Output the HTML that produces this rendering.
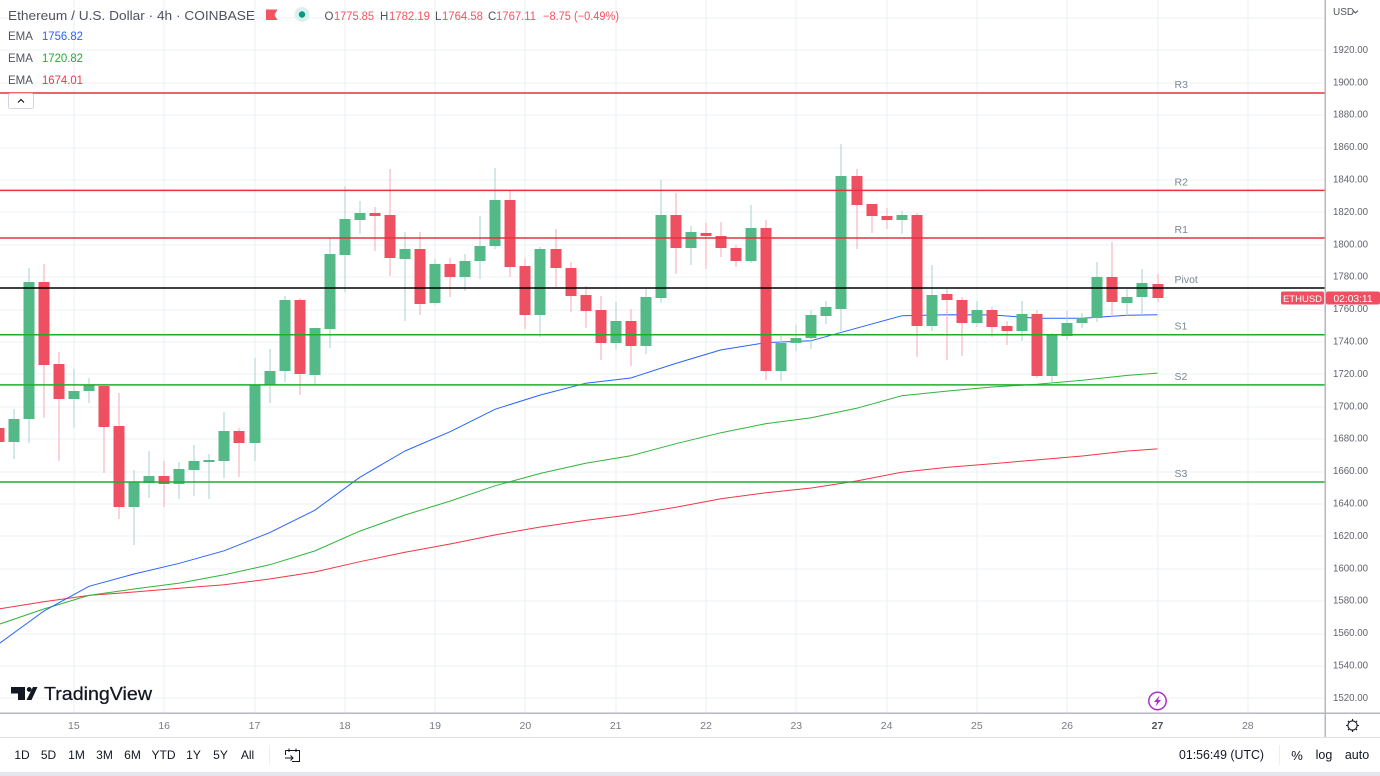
<!DOCTYPE html>
<html lang="en">
<head>
<meta charset="utf-8">
<title>Ethereum / U.S. Dollar 4h chart</title>
<style>
html,body{margin:0;padding:0;background:#fff;}
#stage{position:relative;width:1380px;height:776px;overflow:hidden;background:#fff;}
svg{position:absolute;left:0;top:0;display:block;font-family:"Liberation Sans",sans-serif;}
</style>
</head>
<body>
<div id="stage">
<svg id="chart" width="1380" height="776" viewBox="0 0 1380 776">
  <defs><clipPath id="pane"><rect x="0" y="0" width="1325" height="713"/></clipPath></defs>
  <g id="grid"></g>
  <g id="emas" clip-path="url(#pane)"></g>
  <g id="candles" clip-path="url(#pane)"></g>
  <g id="pivots"></g>
  <g id="yaxis"></g>
  <g id="xaxis"></g>

  <rect x="1324.5" y="0" width="1.5" height="737" fill="#b4b7bf"/>
  <rect x="0" y="712.5" width="1380" height="1.5" fill="#b4b7bf"/>
  <rect x="0" y="737" width="1380" height="1" fill="#e0e3eb"/>
  <rect x="0" y="772" width="1380" height="4" fill="#e3e6ee"/>

  <!-- header legend -->
  <g>
    <text x="8" y="20" font-size="13" fill="#50535e" textLength="247" lengthAdjust="spacingAndGlyphs">Ethereum / U.S. Dollar · 4h · COINBASE</text>
    <path d="M266 9.5H277.5L274.5 15L277.5 20H266Z" fill="#f7525f"/>
    <circle cx="302" cy="14.5" r="7.5" fill="#dcf1ed"/>
    <circle cx="302" cy="14.5" r="3.2" fill="#089981"/>
    <g font-size="11.5">
      <text x="324.5" y="20" fill="#50535e">O</text>
      <text x="334" y="20" fill="#f7525f" textLength="40" lengthAdjust="spacingAndGlyphs">1775.85</text>
      <text x="380" y="20" fill="#50535e">H</text>
      <text x="389" y="20" fill="#f7525f" textLength="41" lengthAdjust="spacingAndGlyphs">1782.19</text>
      <text x="435" y="20" fill="#50535e">L</text>
      <text x="442" y="20" fill="#f7525f" textLength="41" lengthAdjust="spacingAndGlyphs">1764.58</text>
      <text x="488" y="20" fill="#50535e">C</text>
      <text x="496" y="20" fill="#f7525f" textLength="40" lengthAdjust="spacingAndGlyphs">1767.11</text>
      <text x="543" y="20" fill="#f7525f" textLength="76" lengthAdjust="spacingAndGlyphs">−8.75 (−0.49%)</text>
    </g>
    <g font-size="11.5">
      <text x="8" y="40" fill="#50535e">EMA</text>
      <text x="42" y="40" fill="#2962ff" textLength="41" lengthAdjust="spacingAndGlyphs">1756.82</text>
      <text x="8" y="62" fill="#50535e">EMA</text>
      <text x="42" y="62" fill="#1fae2c" textLength="41" lengthAdjust="spacingAndGlyphs">1720.82</text>
      <text x="8" y="84" fill="#50535e">EMA</text>
      <text x="42" y="84" fill="#f23645" textLength="41" lengthAdjust="spacingAndGlyphs">1674.01</text>
    </g>
    <g>
      <rect x="8.5" y="93.5" width="25" height="15" rx="2" fill="#fff" stroke="#d1d4dc"/>
      <path d="M18 102.5L21 99.5L24 102.5" fill="none" stroke="#131722" stroke-width="1.2"/>
    </g>
  </g>

  <!-- last price tags -->
  <g>
    <rect x="1281" y="291.5" width="43" height="13" rx="2" fill="#ee4f61"/>
    <text x="1302.5" y="302" font-size="9.5" fill="#fff" text-anchor="middle">ETHUSD</text>
    <rect x="1326" y="291.5" width="54" height="13" rx="2" fill="#ee4f61"/>
    <text x="1353" y="302" font-size="10" fill="#fff" text-anchor="middle" textLength="39" lengthAdjust="spacingAndGlyphs">02:03:11</text>
  </g>

  <!-- USD selector -->
  <g>
    <rect x="1327" y="0" width="53" height="22" fill="#fff"/>
    <text x="1333" y="15" font-size="10" fill="#50535e">USD</text>
    <path d="M1353 10.5L1355.5 13L1358 10.5" fill="none" stroke="#50535e" stroke-width="1"/>
  </g>

  <!-- watermark -->
  <g>
    <path d="M11 687H25V700H18V693.5H11ZM33 687H37.5L31.5 700H26.5ZM26.8 689.5A2.4 2.4 0 1 0 26.8 689.4Z" fill="#131722"/>
    <text x="44" y="700" font-size="18.5" font-weight="400" fill="#131722" stroke="#131722" stroke-width="0.25" textLength="108" lengthAdjust="spacingAndGlyphs">TradingView</text>
  </g>

  <!-- event icon -->
  <g>
    <circle cx="1157.5" cy="701" r="8.7" fill="#fff" stroke="#ab2fc6" stroke-width="1.5"/>
    <path d="M1159.5 695.5L1154 702H1157L1155.5 706.5L1161 700H1158Z" fill="#ab2fc6"/>
  </g>

  <!-- settings -->
  <g fill="none" stroke="#131722" stroke-width="1.1">
    <circle cx="1352.5" cy="725.5" r="4.6"/>
    <path d="M1352.5 719V720.8M1352.5 730.2V732M1346 725.5H1347.8M1357.2 725.5H1359M1347.9 720.9L1349.2 722.2M1355.8 728.8L1357.1 730.1M1347.9 730.1L1349.2 728.8M1355.8 722.2L1357.1 720.9"/>
  </g>

  <!-- bottom toolbar -->
  <g font-size="12" fill="#131722" text-anchor="middle">
    <text x="22" y="759">1D</text>
    <text x="48.5" y="759">5D</text>
    <text x="76.5" y="759">1M</text>
    <text x="104.5" y="759">3M</text>
    <text x="132.5" y="759">6M</text>
    <text x="163.5" y="759">YTD</text>
    <text x="193.5" y="759">1Y</text>
    <text x="220.5" y="759">5Y</text>
    <text x="247.5" y="759">All</text>
  </g>
  <rect x="269" y="745" width="1" height="20" fill="#eceef2"/>
  <g fill="none" stroke="#131722" stroke-width="1">
    <path d="M288 750.5H299.5V761.5H292M285.5 750.5H288M285.5 750.5V755M289 748.5V752M296 748.5V752M285 758H293M290.5 755.5L293 758L290.5 760.5"/>
  </g>
  <text x="1179" y="759" font-size="12.5" fill="#131722" textLength="85" lengthAdjust="spacingAndGlyphs">01:56:49 (UTC)</text>
  <rect x="1279" y="745" width="1" height="20" fill="#eceef2"/>
  <text x="1297" y="760" font-size="13" fill="#131722" text-anchor="middle">%</text>
  <text x="1324" y="759" font-size="12.5" fill="#131722" text-anchor="middle">log</text>
  <text x="1357" y="759" font-size="12.5" fill="#131722" text-anchor="middle">auto</text>
</svg>
</div>
<script>
// candle values (USD), one entry per 4h bar
const opens = [1686.7,1678.5,1692.3,1777.2,1726.6,1705.0,1709.6,1713.1,1688.1,1638.2,1652.8,1657.5,1652.4,1661.0,1666.1,1666.5,1685.1,1677.6,1713.5,1721.9,1766.1,1719.6,1748.2,1793.9,1815.3,1819.4,1818.2,1791.4,1797.2,1764.1,1788.0,1780.1,1789.8,1799.1,1827.4,1786.9,1756.9,1797.2,1785.7,1768.8,1759.6,1739.6,1753.0,1737.5,1767.4,1818.4,1797.8,1807.3,1805.6,1798.0,1790.0,1810.2,1721.9,1739.4,1742.3,1756.3,1760.4,1842.5,1825.2,1817.8,1815.3,1818.4,1749.9,1769.4,1766.1,1751.9,1759.5,1750.1,1746.8,1757.3,1719.0,1743.7,1751.5,1754.8,1780.1,1764.3,1767.6,1775.85];
const highs = [1687.7,1698.4,1785.5,1788.2,1733.6,1723.1,1717.6,1714.1,1708.3,1661.0,1672.7,1666.5,1665.9,1676.2,1670.9,1696.6,1686.7,1729.9,1735.7,1768.4,1767.2,1748.4,1804.0,1836.3,1827.0,1823.4,1846.6,1807.9,1807.9,1791.4,1791.9,1794.1,1818.0,1847.2,1833.4,1791.6,1798.9,1809.8,1789.4,1774.6,1768.4,1764.7,1760.4,1773.1,1840.0,1832.2,1811.8,1813.5,1814.1,1799.9,1824.4,1815.3,1743.7,1750.5,1759.8,1765.3,1862.2,1846.6,1825.2,1822.7,1820.9,1819.6,1787.5,1772.5,1767.6,1765.3,1761.4,1752.9,1765.3,1759.8,1745.3,1759.3,1758.1,1789.6,1801.7,1772.5,1785.1,1782.19];
const lows = [1677.5,1667.6,1677.9,1693.3,1666.8,1687.1,1702.1,1658.9,1630.5,1614.7,1643.5,1638.4,1642.9,1645.2,1642.9,1656.3,1656.9,1666.8,1702.1,1715.5,1707.3,1713.5,1736.1,1771.1,1806.7,1796.4,1780.7,1753.2,1756.5,1762.8,1767.6,1771.7,1779.1,1797.6,1780.1,1748.2,1743.3,1773.7,1758.5,1748.4,1728.9,1735.7,1725.2,1732.6,1764.3,1781.8,1787.5,1784.9,1792.7,1786.5,1788.9,1716.5,1715.7,1734.2,1735.7,1750.9,1747.0,1797.4,1807.5,1809.8,1806.7,1730.7,1746.8,1728.9,1731.4,1749.5,1743.3,1738.4,1740.6,1717.6,1715.5,1741.2,1748.4,1752.4,1755.6,1756.3,1756.7,1764.58];
const closes = [1678.5,1692.3,1777.2,1726.0,1705.0,1709.8,1713.5,1687.7,1638.2,1653.6,1657.5,1652.4,1661.6,1666.3,1667.2,1685.1,1677.4,1713.3,1722.1,1766.1,1720.5,1748.4,1794.1,1815.9,1819.4,1817.8,1792.1,1797.2,1763.7,1788.0,1780.1,1789.8,1799.3,1827.4,1786.5,1756.9,1797.2,1785.9,1768.6,1759.3,1739.6,1753.0,1737.5,1767.6,1818.4,1797.8,1807.9,1805.4,1797.8,1790.0,1810.2,1721.9,1739.6,1742.5,1756.5,1761.4,1842.5,1824.8,1817.8,1815.3,1818.4,1749.9,1769.2,1766.1,1751.9,1759.5,1749.5,1746.8,1757.3,1719.0,1744.7,1751.9,1754.8,1780.1,1764.5,1767.8,1776.4,1767.11];

// EMA readings, taken at these bar numbers
const emaBars = [0,3,6,9,12,15,18,21,24,27,30,33,36,39,42,45,48,51,54,57,60,63,66,69,72,75,77];
const emaBlue = [1553.6,1573.9,1589.2,1596.8,1603.4,1611.2,1622.3,1636.1,1656.5,1672.7,1684.6,1698.5,1707.3,1714.5,1717.8,1726.8,1735.1,1739.6,1740.8,1748.5,1756.2,1756.8,1756.7,1754.6,1754.6,1756.5,1756.82];
const emaGreen = [1565.7,1575.2,1583.6,1587.5,1591.2,1596.3,1602.5,1611.0,1623.3,1633.2,1641.8,1651.3,1658.9,1665.1,1669.8,1677.2,1684.0,1689.6,1693.3,1699.1,1706.8,1709.7,1712.2,1713.9,1716.4,1719.4,1720.82];
const emaRed = [1575.2,1579.7,1583.6,1585.7,1588.0,1590.2,1593.7,1598.0,1604.4,1610.2,1615.3,1620.9,1625.8,1629.9,1633.4,1638.0,1643.3,1647.0,1649.9,1654.2,1659.6,1662.6,1664.9,1667.2,1669.6,1672.7,1674.01];

// pivot levels
const pivotNames = ['R3','R2','R1','Pivot','S1','S2','S3'];
const pivotValues = [1893.7,1833.6,1804.2,1773.3,1744.5,1713.5,1653.6];

// axis ticks
const priceTicks = [1920,1900,1880,1860,1840,1820,1800,1780,1760,1740,1720,1700,1680,1660,1640,1620,1600,1580,1560,1540,1520];
const gridOnlyPrices = [1940];
const dayLabels = ['15','16','17','18','19','20','21','22','23','24','25','26','27','28'];
const dayBars = [5,11,17,23,29,35,41,47,53,59,65,71,77,83];

const NS = 'http://www.w3.org/2000/svg';
function yOf(p){ return 180 + (1840 - p) * 1.62; }
function xOf(i){ return 1157.5 - (77 - i) * 15.05; }
function mk(tag, parent, attrs){
  const el = document.createElementNS(NS, tag);
  for (const k in attrs) el.setAttribute(k, attrs[k]);
  parent.appendChild(el);
  return el;
}

const gGrid = document.getElementById('grid');
const gEma = document.getElementById('emas');
const gCandles = document.getElementById('candles');
const gPivots = document.getElementById('pivots');
const gY = document.getElementById('yaxis');
const gX = document.getElementById('xaxis');

// horizontal grid + price labels
priceTicks.concat(gridOnlyPrices).forEach(function(p){
  const line = mk('rect', gGrid, {x:0, y:Math.round(yOf(p)) - 0.5, width:1325, height:1, fill:'#eef1f5'});
  
  
});
priceTicks.forEach(function(p){
  const t = mk('text', gY, {x:1333, y:yOf(p) + 2.5, 'font-size':10.5, fill:'#5f626d', textLength:35, lengthAdjust:'spacingAndGlyphs'});
  t.textContent = p.toFixed(2);
  
  
});

// vertical grid + date labels
dayLabels.forEach(function(d, k){
  const x = xOf(dayBars[k]);
  const line = mk('rect', gGrid, {x:Math.round(x) - 0.5, y:0, width:1, height:713, fill:'#e9f0f4'});
  
  
  const bold = d === '27';
  const t = mk('text', gX, {x:x, y:729, 'font-size':10.5, 'text-anchor':'middle', fill: bold ? '#50535e' : '#787b86', 'font-weight': bold ? '700' : '400'});
  t.textContent = d;
  
  
});

// EMA lines
function drawEma(values, color, name){
  let pts = '';
  values.forEach(function(v, k){ pts += xOf(emaBars[k]).toFixed(1) + ',' + yOf(v).toFixed(1) + ' '; });
  const line = mk('polyline', gEma, {points:pts.trim(), fill:'none', stroke:color, 'stroke-width':1, 'stroke-linejoin':'round'});
  
  
}
drawEma(emaRed, '#f23645', 'ema-red-line');
drawEma(emaGreen, '#2fb53c', 'ema-green-line');
drawEma(emaBlue, '#2962ff', 'ema-blue-line');

// candles
opens.forEach(function(o, i){
  const c = closes[i];
  const up = c >= o;
  const x = Math.round(xOf(i));
  const top = Math.round(yOf(Math.max(o, c)));
  const bot = Math.round(yOf(Math.min(o, c)));
  const wt = Math.round(yOf(highs[i]));
  const wb = Math.round(yOf(lows[i]));
  const wick = mk('rect', gCandles, {x:x - 0.5, y:wt, width:1, height:Math.max(1, wb - wt), fill: up ? '#aacfd3' : '#f7a9b5'});
  
  
  const body = mk('rect', gCandles, {x:x - 5.5, y:top, width:11, height:Math.max(2, bot - top), fill: up ? '#53b987' : '#ee4f61'});
  
  
});

// pivot levels
pivotNames.forEach(function(n, k){
  const v = pivotValues[k];
  const color = n === 'Pivot' ? '#000000' : (n.charAt(0) === 'R' ? '#e8313f' : '#1fae2c');
  const line = mk('line', gPivots, {x1:0, x2:1325, y1:yOf(v), y2:yOf(v), stroke:color, 'stroke-width':1.5});
  
  
  const t = mk('text', gPivots, {x:1174.5, y:yOf(v) - 5, 'font-size':10.5, fill:'#7b8794'});
  t.textContent = n;
  
  
});
</script>
</body>
</html>
